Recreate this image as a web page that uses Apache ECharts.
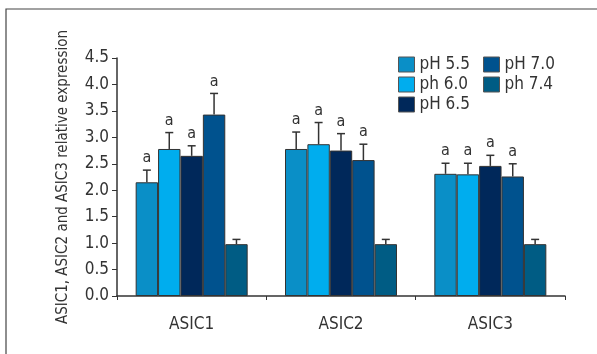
<!DOCTYPE html>
<html><head><meta charset="utf-8">
<script src="https://cdn.jsdelivr.net/npm/echarts@6/dist/echarts.min.js"></script>
<style>html,body{margin:0;padding:0;background:#fff}#c{width:597px;height:354px}</style>
</head><body><div id="c"></div>
<script>
const categories = ['ASIC1', 'ASIC2', 'ASIC3'];
const seriesNames = ['pH 5.5', 'ph 6.0', 'pH 6.5', 'pH 7.0', 'ph 7.4'];
const ph55 = [2.15, 2.78, 2.31];
const ph60 = [2.78, 2.87, 2.30];
const ph65 = [2.65, 2.75, 2.46];
const ph70 = [3.43, 2.57, 2.26];
const ph74 = [0.98, 0.98, 0.98];
const err55 = [0.23, 0.32, 0.20];
const err60 = [0.31, 0.41, 0.21];
const err65 = [0.19, 0.32, 0.20];
const err70 = [0.40, 0.30, 0.24];
const err74 = [0.09, 0.09, 0.09];
const sigLabels = [['a','a','a'],['a','a','a'],['a','a','a'],['a','a','a'],['','','']];
const yTicks = ['0.0','0.5','1.0','1.5','2.0','2.5','3.0','3.5','4.0','4.5'];
const colors = ['#0a8fc7', '#00adee', '#00285a', '#00528e', '#005c84'];

const values = [ph55, ph60, ph65, ph70, ph74];
const errs = [err55, err60, err65, err70, err74];
const font = '"DejaVu Sans Condensed", "Liberation Sans Narrow", "Roboto", sans-serif';
const N = seriesNames.length;
const catGap = 0.25;

const chart = echarts.init(document.getElementById('c'));
const series = [];
values.forEach((v, i) => {
  series.push({
    name: seriesNames[i], type: 'bar', data: v, barGap: '0%', barCategoryGap: '25%',
    itemStyle: { color: colors[i], borderColor: '#333', borderWidth: 1 }
  });
});
const errData = [];
values.forEach((v, i) => v.forEach((val, j) => errData.push([j, val, errs[i][j], i, sigLabels[i][j]])));
series.push({
  type: 'custom', z: 5, silent: true,
  data: errData,
  encode: { x: 0, y: 1 },
  renderItem: function (params, api) {
    const c = api.value(0), val = api.value(1), e = api.value(2), si = api.value(3);
    const lab = errData[params.dataIndex][4];
    const catW = api.size([1, 0])[0];
    const bw = catW * (1 - catGap) / N;
    const base = api.coord([c, val]);
    const top = api.coord([c, val + e]);
    const x = base[0] + (si - (N - 1) / 2) * bw;
    const capW = 4;
    const st = { stroke: '#333', lineWidth: 1.5 };
    const children = [
      { type: 'line', shape: { x1: x, y1: base[1], x2: x, y2: top[1] }, style: st },
      { type: 'line', shape: { x1: x - capW, y1: top[1], x2: x + capW, y2: top[1] }, style: st }
    ];
    if (lab) children.push({ type: 'text', style: { text: lab, x: x, y: top[1] - 4, textAlign: 'center', textVerticalAlign: 'bottom', fill: '#333', font: '16px ' + font } });
    return { type: 'group', children: children };
  }
});

const legendCommon = { orient: 'vertical', top: 51, itemWidth: 16, itemHeight: 15, itemGap: 3, icon: 'rect',
  itemStyle: { borderColor: '#555', borderWidth: 1 },
  textStyle: { fontFamily: font, fontSize: 17, color: '#333', padding: [0, 0, 0, 0] } };

chart.setOption({
  animation: false,
  graphic: [{ type: 'rect', shape: { x: 6, y: 9, width: 640, height: 400 }, style: { fill: 'none', stroke: '#444', lineWidth: 1.2 } }],
  legend: [
    Object.assign({ data: seriesNames.slice(0, 3), left: 393 }, legendCommon),
    Object.assign({ data: seriesNames.slice(3), left: 478 }, legendCommon)
  ],
  grid: { left: 117, right: 32, top: 58, bottom: 58 },
  xAxis: {
    type: 'category', data: categories,
    axisLine: { lineStyle: { color: '#333', width: 1.5 } },
    axisTick: { show: true, length: 4, lineStyle: { color: '#333' } },
    axisLabel: { color: '#333', fontFamily: font, fontSize: 17, margin: 20 }
  },
  yAxis: {
    type: 'value', min: 0, max: 4.5, interval: 0.5,
    name: 'ASIC1, ASIC2 and ASIC3 relative expression', nameLocation: 'middle', nameGap: 46,
    nameTextStyle: { color: '#333', fontFamily: font, fontSize: 15 },
    axisLine: { show: true, lineStyle: { color: '#333', width: 1.5 } },
    axisTick: { show: true, length: 5, lineStyle: { color: '#333' } },
    splitLine: { show: false },
    axisLabel: { color: '#333', fontFamily: font, fontSize: 17, margin: 8,
      formatter: (v) => yTicks[Math.round(v * 2)] }
  },
  series: series
});
</script></body></html>
